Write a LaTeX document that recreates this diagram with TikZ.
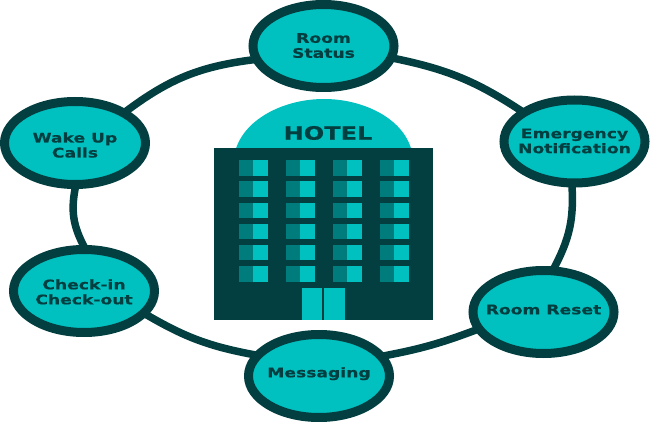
\documentclass[tikz,border=0pt]{standalone}
\usepackage{fontspec}
\setmainfont[FakeStretch=1.3,BoldFeatures={FakeBold=0.4}]{DejaVu Sans}
\usetikzlibrary{backgrounds,shapes.geometric}
\definecolor{darkteal}{HTML}{033F40}
\definecolor{brightteal}{HTML}{00C0C0}
\definecolor{midteal}{HTML}{007C7C}
\newcommand{\svctext}[2]{\makebox[0pt]{\smash{\raisebox{#1}{\begin{tabular}[c]{@{}c@{}}#2\end{tabular}}}}}
\tikzset{
  x=1pt,y=-1pt,
  service/.style={ellipse,draw=darkteal,line width=9pt,fill=brightteal,minimum width=141pt,minimum height=83pt,inner sep=0pt,
    text=darkteal,font=\bfseries\fontsize{13.2}{15}\selectfont},
  ring/.style={draw=darkteal,line width=7.5pt,shorten <=-4pt,shorten >=-4pt},
  bld/.style={fill=darkteal,draw=none},
}
\begin{document}
\begin{tikzpicture}
\useasboundingbox (0,0) rectangle (650,422);
% dome and building
\fill[brightteal] (236,148.5) .. controls (246,118) and (285,99) .. (324,99) .. controls (363,99) and (402,118) .. (411,148.5) -- cycle;
\node[text=darkteal,font=\bfseries\fontsize{18.5}{20}\selectfont] (hotel) at (328,133) {HOTEL};
\fill[bld] (213.7,148.3) rectangle (433,320);
\foreach \cx in {239,286,333,380}{
  \foreach \cy in {160.3,181.4,202.6,223.8,245,266.2}{
    \fill[midteal] (\cx,\cy) rectangle (\cx+14,\cy+15.4);
    \fill[brightteal] (\cx+14,\cy) rectangle (\cx+28.5,\cy+15.4);
  }
}
\fill[brightteal] (301.7,287.7) rectangle (322,319.5);
\fill[brightteal] (324.3,287.7) rectangle (344.7,319.5);
% services
\node[service] (status) at (323.5,46) {\svctext{-4.3pt}{Room\\Status}};
\node[service] (wake) at (75,143) {\svctext{-7pt}{Wake Up\\Calls}};
\node[service] (emerg) at (574.5,141.5) {\svctext{-4.2pt}{Emergency\\Notification}};
\node[service] (reset) at (543.5,312) {\svctext{-2.3pt}{Room Reset}};
\node[service] (check) at (84,291) {\svctext{-5.8pt}{Check-in\\Check-out}};
\node[service] (msg) at (319,376) {\svctext{-1.3pt}{Messaging}};
% ring
\begin{scope}[on background layer]
\draw[ring] (wake.32) to[bend left=15] (status.191);
\draw[ring] (status.350) to[bend left=11] (emerg.150);
\draw[ring] (emerg.267) to[bend left=16] (reset.76);
\draw[ring] (reset.195) to[bend left=5] (msg.17);
\draw[ring] (msg.162) to[bend left=10] (check.339);
\draw[ring] (check.91) to[bend left=20] (wake.270);
\end{scope}
\end{tikzpicture}
\end{document}
